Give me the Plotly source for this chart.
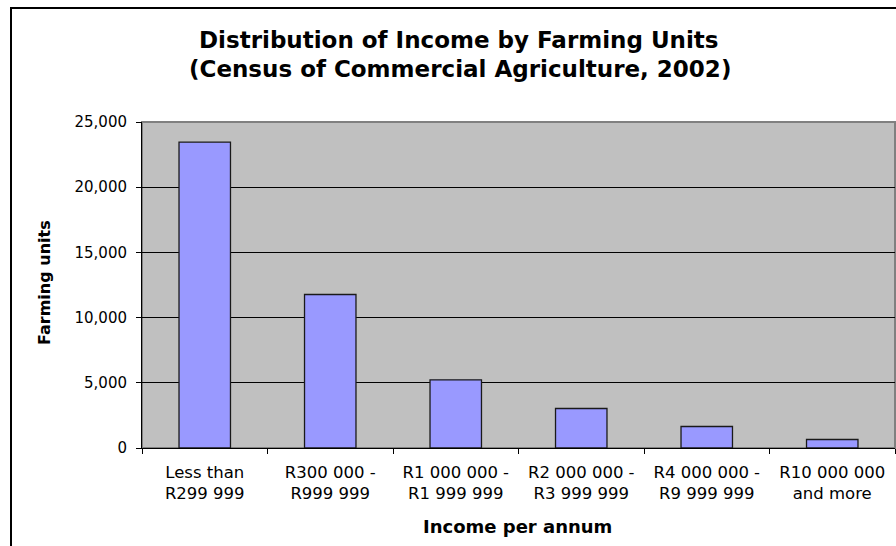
import plotly.graph_objects as go

categories = ["Less than<br>R299 999", "R300 000 -<br>R999 999", "R1 000 000 -<br>R1 999 999",
              "R2 000 000 -<br>R3 999 999", "R4 000 000 -<br>R9 999 999", "R10 000 000<br>and more"]
farming_units = [23450, 11770, 5230, 3030, 1650, 650]
y_ticks = [0, 5000, 10000, 15000, 20000, 25000]
title_lines = ["Distribution of Income by Farming Units", "(Census of Commercial Agriculture, 2002)"]
x_title = "Income per annum"
y_title = "Farming units"

W, H = 896, 546
L, R, T, B = 142, 1, 122, 98
pw, ph = W - L - R, H - T - B

def px(x):
    return (x - L) / pw

def py(y):
    return (H - B - y) / ph

FONT = "DejaVu Sans"

fig = go.Figure(go.Bar(
    x=categories, y=farming_units,
    marker=dict(color="#9999FF", line=dict(color="#1a1a1a", width=1.3)),
    hoverinfo="x+y",
))

fig.update_layout(
    width=W, height=H,
    margin=dict(l=L, r=R, t=T, b=B),
    paper_bgcolor="white", plot_bgcolor="#C0C0C0",
    bargap=0.59, showlegend=False,
    font=dict(family=FONT, color="black"),
    xaxis=dict(
        type="category", tickson="boundaries", ticks="outside", ticklen=5,
        tickcolor="black", tickwidth=1, showline=True, linecolor="black", linewidth=1,
        showgrid=False, tickfont=dict(family=FONT, size=16.5, color="black"),
        ticklabelstandoff=9,
    ),
    yaxis=dict(
        range=[0, 25000], tickvals=y_ticks, tickformat=",", ticks="outside", ticklen=5,
        tickcolor="black", tickwidth=1, showline=True, linecolor="black", linewidth=1,
        showgrid=True, gridcolor="black", gridwidth=1, zeroline=False,
        tickfont=dict(family=FONT, size=15, color="black"), ticklabelstandoff=6,
    ),
    shapes=[
        dict(type="rect", xref="paper", yref="paper", x0=0, x1=1, y0=0, y1=1,
             line=dict(color="#808080", width=2), layer="below"),
        dict(type="rect", xref="paper", yref="paper", x0=px(11), x1=px(W + 40),
             y0=py(H + 40), y1=py(8), line=dict(color="black", width=2), layer="below"),
    ],
    annotations=[
        dict(text="<b>%s</b>" % title_lines[0], xref="paper", yref="paper", x=px(459), y=py(40),
             xanchor="center", yanchor="middle", showarrow=False, font=dict(family=FONT, size=23)),
        dict(text="<b>%s</b>" % title_lines[1], xref="paper", yref="paper", x=px(460), y=py(69),
             xanchor="center", yanchor="middle", showarrow=False, font=dict(family=FONT, size=23)),
        dict(text="<b>%s</b>" % x_title, xref="paper", yref="paper", x=px(517), y=py(526),
             xanchor="center", yanchor="middle", showarrow=False, font=dict(family=FONT, size=18)),
        dict(text="<b>%s</b>" % y_title, xref="paper", yref="paper", x=px(44), y=py(283),
             xanchor="center", yanchor="middle", showarrow=False, textangle=-90,
             font=dict(family=FONT, size=16)),
    ],
)

fig.write_html("out.html")
